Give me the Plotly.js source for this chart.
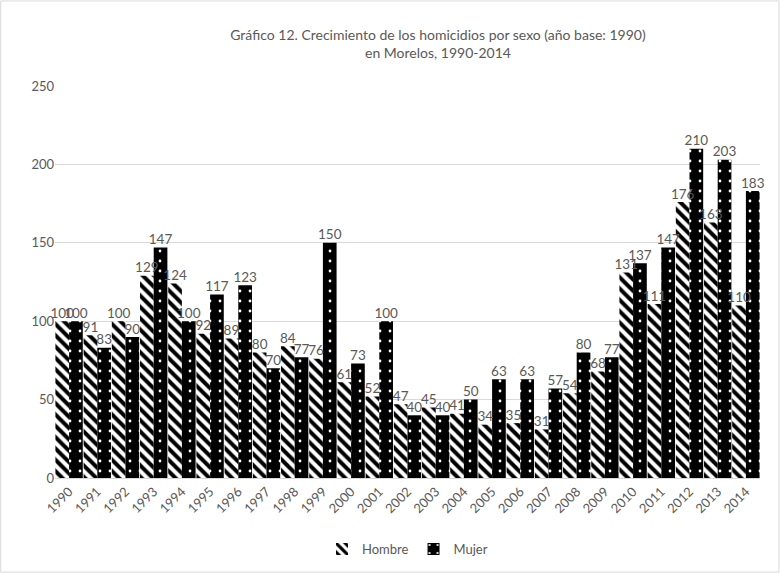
<!DOCTYPE html>
<html>
<head>
<meta charset="utf-8">
<script src="https://cdn.plot.ly/plotly-3.0.1.min.js"></script>
<style>html,body{margin:0;padding:0;background:#fff;}#chart{width:780px;height:573px;}</style>
</head>
<body>
<div id="chart"></div>
<script>
const years = ['1990','1991','1992','1993','1994','1995','1996','1997','1998','1999','2000','2001','2002','2003','2004','2005','2006','2007','2008','2009','2010','2011','2012','2013','2014'];
const hombre = [100,91,100,129,124,92,89,80,84,76,61,52,47,45,41,34,35,31,54,68,131,111,176,163,110];
const mujer = [100,83,90,147,100,117,123,70,77,150,73,100,40,40,50,63,63,57,80,77,137,147,210,203,183];
const yTicks = [0,50,100,150,200,250];

const font = 'Lato, "Open Sans", sans-serif';
const grey = '#595959';

const traces = [
  {
    type: 'bar', name: 'Hombre', x: years, y: hombre, hoverinfo: 'x+y',
    marker: {color: '#ffffff', line: {width: 0},
      pattern: {shape: '\\', fgcolor: '#000000', bgcolor: '#ffffff', size: 8, solidity: 0.5, fillmode: 'replace'}}
  },
  {
    type: 'bar', name: 'Mujer', x: years, y: mujer, hoverinfo: 'x+y',
    marker: {color: '#000000', line: {width: 0},
      pattern: {shape: '.', fgcolor: '#ffffff', bgcolor: '#000000', size: 10, solidity: 0.06, fillmode: 'replace'}}
  },
  {
    type: 'scatter', mode: 'text', x: years, y: hombre, text: hombre.map(String),
    textposition: 'top center', cliponaxis: false, showlegend: false, hoverinfo: 'skip',
    textfont: {family: font, size: 13.5, color: grey}
  },
  {
    type: 'scatter', mode: 'text', x: years, y: mujer, text: mujer.map(String),
    textposition: 'top center', cliponaxis: false, showlegend: false, hoverinfo: 'skip',
    textfont: {family: font, size: 13.5, color: grey}
  }
];

const layout = {
  width: 780, height: 573,
  margin: {l: 55, r: 20, t: 86, b: 95, autoexpand: false},
  paper_bgcolor: '#ffffff', plot_bgcolor: '#ffffff',
  font: {family: font, color: grey, size: 13},
  title: {text: 'Gráfico 12. Crecimiento de los homicidios por sexo (año base: 1990)<br>en Morelos, 1990-2014',
    font: {family: font, size: 14, color: grey}, xref: 'container', x: 0.5615, xanchor: 'center', y: 0.93, yanchor: 'top'},
  barmode: 'group', bargap: 0.03, bargroupgap: 0,
  scattermode: 'group', scattergap: 0.03,
  xaxis: {type: 'category', tickangle: -45, tickfont: {family: font, size: 13, color: grey}, automargin: false,
    showline: true, linecolor: '#d9d9d9', linewidth: 1, ticks: '', showgrid: false},
  yaxis: {range: [0, 250], tickvals: yTicks, tickfont: {family: font, size: 13, color: grey}, automargin: false,
    showgrid: true, gridcolor: '#d9d9d9', gridwidth: 1, zeroline: false, showline: false, ticks: ''},
  showlegend: true,
  legend: {orientation: 'h', x: 0.5, xanchor: 'center', y: -0.143, yanchor: 'top',
    font: {family: font, size: 13, color: grey}, tracegroupgap: 0, itemwidth: 30},
  shapes: [{type: 'rect', xref: 'paper', yref: 'paper', x0: -0.077, x1: 1.027, y0: -0.24, y1: 1.217,
    line: {color: '#d9d9d9', width: 1}}]
};

Plotly.newPlot('chart', traces, layout, {displayModeBar: false});
</script>
</body>
</html>
